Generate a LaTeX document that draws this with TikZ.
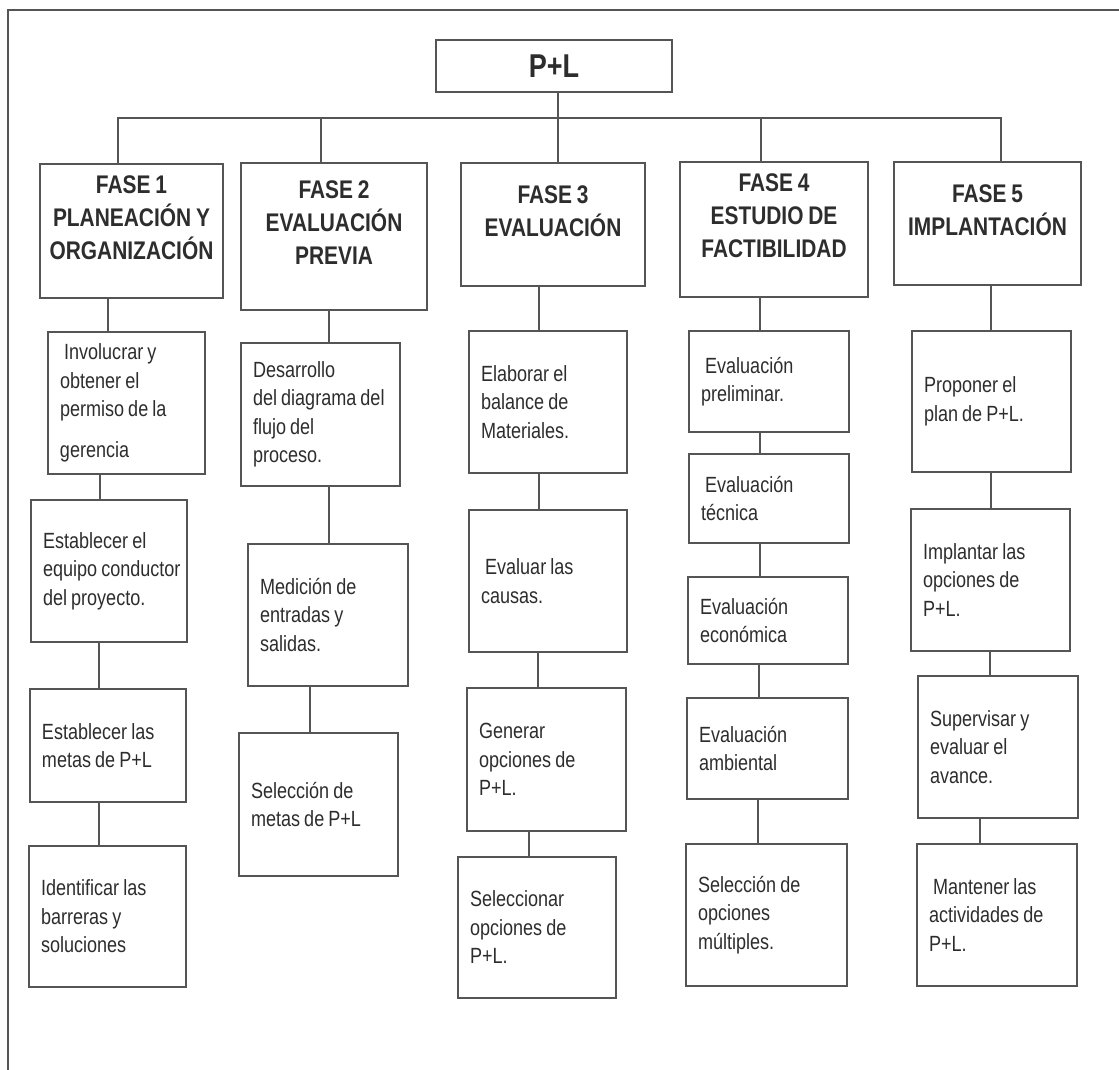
\documentclass[tikz,border=0pt]{standalone}
\usepackage{fontspec}
\setmainfont{Liberation Sans}[FakeStretch=0.82, WordSpace=0.82]
\usepackage{tikz}
\definecolor{frameline}{RGB}{85,85,85}
\definecolor{inktext}{RGB}{45,45,45}

\begin{document}
\begin{tikzpicture}[x=1pt, y=-1pt, line width=1.1pt]
    \tikzstyle{rootbox} = [rectangle, draw=frameline, text=inktext, font=\fontsize{33}{36}\selectfont\bfseries, inner sep=0pt]
    \tikzstyle{phasebox} = [rectangle, draw=frameline, text=inktext, align=center, font=\fontsize{25.5}{33}\selectfont\bfseries, inner sep=0pt, execute at end node={\rule[-27pt]{0pt}{0pt}}]
    \tikzstyle{stepbox} = [rectangle, draw=frameline, text=inktext, align=left, font=\fontsize{22}{28.5}\selectfont, inner xsep=4pt, inner ysep=0pt, execute at begin node={\leftskip=8pt\spaceskip=0pt\xspaceskip=0pt\hyphenpenalty=10000}]
    \tikzstyle{link} = [draw=frameline]

    \useasboundingbox (0,0) rectangle (1119,1070);
    \draw [link] (8,1070) -- (8,10) -- (1119,10);

    \node (pl) [rootbox, minimum width=236pt, minimum height=52pt] at (554,66) {P+L};

    \node (f1) [phasebox, minimum width=183pt, minimum height=134pt] at (131.5,231) {FASE 1\\PLANEACIÓN Y\\ORGANIZACIÓN};
    \node (f2) [phasebox, minimum width=186pt, minimum height=147pt] at (334,236.5) {FASE 2\\EVALUACIÓN\\PREVIA};
    \node (f3) [phasebox, minimum width=184pt, minimum height=123pt] at (553,224.5) {FASE 3\\EVALUACIÓN};
    \node (f4) [phasebox, minimum width=188pt, minimum height=135pt] at (774,229.5) {FASE 4\\ESTUDIO DE\\FACTIBILIDAD};
    \node (f5) [phasebox, minimum width=187pt, minimum height=123pt] at (987.5,223.5) {FASE 5\\IMPLANTACIÓN};

    \node (b1a) [stepbox, text width=149pt, minimum height=142pt] at (126.5,403) {~Involucrar y\\obtener el\\permiso de la\\[12pt]gerencia};
    \node (b1b) [stepbox, text width=148pt, minimum height=142pt] at (109,571) {Establecer el\\equipo conductor\\del proyecto.};
    \node (b1c) [stepbox, text width=148pt, minimum height=113pt] at (108,745.5) {Establecer las\\metas de P+L};
    \node (b1d) [stepbox, text width=149pt, minimum height=141pt] at (107.5,916.5) {Identificar las\\barreras y\\soluciones};

    \node (b2a) [stepbox, text width=151pt, minimum height=143pt] at (320.5,414.5) {Desarrollo\\del diagrama del\\flujo del\\proceso.};
    \node (b2b) [stepbox, text width=152pt, minimum height=142pt] at (328,615) {Medición de\\entradas y\\salidas.};
    \node (b2c) [stepbox, text width=151pt, minimum height=143pt] at (318.5,804.5) {Selección de\\metas de P+L};

    \node (b3a) [stepbox, text width=150pt, minimum height=142pt] at (548,402) {Elaborar el\\balance de\\Materiales.};
    \node (b3b) [stepbox, text width=150pt, minimum height=142pt] at (548,581) {~Evaluar las\\causas.};
    \node (b3c) [stepbox, text width=151pt, minimum height=143pt] at (546.5,759.5) {Generar\\opciones de\\P+L.};
    \node (b3d) [stepbox, text width=150pt, minimum height=141pt] at (537,927.5) {Seleccionar\\opciones de\\P+L.};

    \node (b4a) [stepbox, text width=152pt, minimum height=101pt] at (769,381.5) {~Evaluación\\preliminar.};
    \node (b4b) [stepbox, text width=152pt, minimum height=89pt] at (769,498.5) {~Evaluación\\técnica};
    \node (b4c) [stepbox, text width=152pt, minimum height=87pt] at (768,620.5) {Evaluación\\económica};
    \node (b4d) [stepbox, text width=153pt, minimum height=101pt] at (767.5,748.5) {Evaluación\\ambiental};
    \node (b4e) [stepbox, text width=153pt, minimum height=142pt] at (766.5,915) {Selección de\\opciones\\múltiples.};

    \node (b5a) [stepbox, text width=151pt, minimum height=141pt] at (991.5,401.5) {Proponer el\\plan de P+L.};
    \node (b5b) [stepbox, text width=151pt, minimum height=142pt] at (990.5,580) {Implantar las\\opciones de\\P+L.};
    \node (b5c) [stepbox, text width=152pt, minimum height=142pt] at (998,747) {Supervisar y\\evaluar el\\avance.};
    \node (b5d) [stepbox, text width=152pt, minimum height=142pt] at (997,915) {~Mantener las\\actividades de\\P+L.};

    \coordinate (bus) at (558,118);
    \coordinate (busL) at (118,118);
    \coordinate (busR) at (1001,118);
    \draw [link] (f1.north -| busL) -- (busL) -- (busR) -- (f5.north -| busR);
    \draw [link] (pl.south -| bus) -- (f3.north -| bus);
    \draw [link] (bus -| 321,0) -- (f2.north -| 321,0);
    \draw [link] (bus -| 761,0) -- (f4.north -| 761,0);

    \draw [link] (f1.south -| 108,0) -- (b1a.north -| 108,0);
    \draw [link] (b1a.south -| 100,0) -- (b1b.north -| 100,0);
    \draw [link] (b1b.south -| 99,0) -- (b1c.north -| 99,0);
    \draw [link] (b1c.south -| 99,0) -- (b1d.north -| 99,0);

    \draw [link] (f2.south -| 329,0) -- (b2a.north -| 329,0);
    \draw [link] (b2a.south -| 329,0) -- (b2b.north -| 329,0);
    \draw [link] (b2b.south -| 310,0) -- (b2c.north -| 310,0);

    \draw [link] (f3.south -| 539,0) -- (b3a.north -| 539,0);
    \draw [link] (b3a.south -| 539,0) -- (b3b.north -| 539,0);
    \draw [link] (b3b.south -| 538,0) -- (b3c.north -| 538,0);
    \draw [link] (b3c.south -| 529,0) -- (b3d.north -| 529,0);

    \draw [link] (f4.south -| 760,0) -- (b4a.north -| 760,0);
    \draw [link] (b4a.south -| 760,0) -- (b4b.north -| 760,0);
    \draw [link] (b4b.south -| 760,0) -- (b4c.north -| 760,0);
    \draw [link] (b4c.south -| 759,0) -- (b4d.north -| 759,0);
    \draw [link] (b4d.south -| 758,0) -- (b4e.north -| 758,0);

    \draw [link] (f5.south -| 991,0) -- (b5a.north -| 991,0);
    \draw [link] (b5a.south -| 991,0) -- (b5b.north -| 991,0);
    \draw [link] (b5b.south -| 990,0) -- (b5c.north -| 990,0);
    \draw [link] (b5c.south -| 980,0) -- (b5d.north -| 980,0);
\end{tikzpicture}
\end{document}
